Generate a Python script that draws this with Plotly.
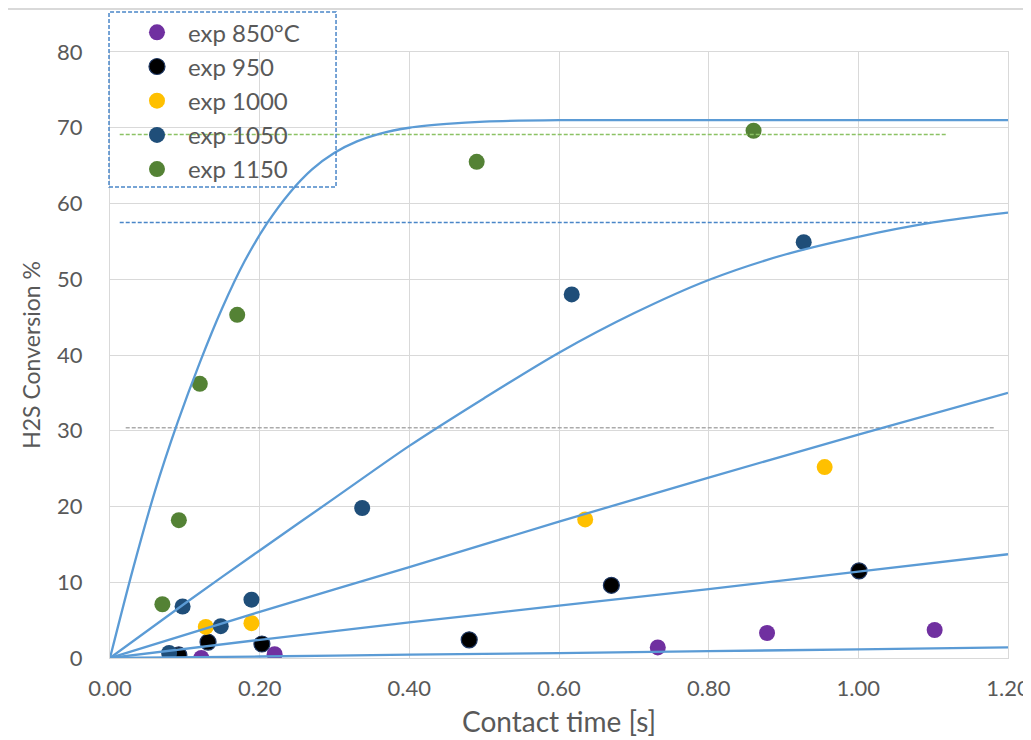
import plotly.graph_objects as go

# ---- experimental points (contact time [s], H2S conversion %) ----
t850 = [0.122, 0.220, 0.732, 0.878, 1.102]
y850 = [0.0, 0.5, 1.4, 3.3, 3.7]
t950 = [0.092, 0.131, 0.203, 0.480, 0.670, 1.001]
y950 = [0.4, 2.1, 1.85, 2.4, 9.6, 11.5]
t1000 = [0.128, 0.189, 0.635, 0.955]
y1000 = [4.1, 4.6, 18.3, 25.2]
t1050 = [0.079, 0.097, 0.148, 0.189, 0.337, 0.617, 0.927]
y1050 = [0.66, 6.8, 4.2, 7.7, 19.8, 48.0, 54.9]
t1150 = [0.070, 0.092, 0.120, 0.170, 0.490, 0.860]
y1150 = [7.1, 18.2, 36.2, 45.3, 65.5, 69.6]

# ---- model curves ----
m1150_t = [0, 0.03, 0.06, 0.09, 0.12, 0.15, 0.18, 0.21, 0.24, 0.27, 0.30, 0.33,
           0.36, 0.40, 0.45, 0.50, 0.60, 0.80, 1.00, 1.20]
m1150_y = [0, 11.5, 22.0, 31.0, 39.0, 46.2, 52.4, 57.4, 61.4, 64.5, 66.7, 68.2,
           69.2, 70.0, 70.5, 70.8, 71.0, 71.0, 71.0, 71.0]
m1050_t = [0, 0.1, 0.2, 0.3, 0.4, 0.5, 0.6, 0.7, 0.8, 0.9, 1.0, 1.1, 1.2]
m1050_y = [0, 7.2, 14.2, 21.1, 28.0, 34.3, 40.3, 45.5, 49.9, 53.2, 55.6, 57.5, 58.8]
m_t = [0, 0.2, 0.4, 0.6, 0.8, 1.0, 1.2]
m1000_y = [0, 6.1, 12.0, 18.0, 23.8, 29.5, 35.0]
m950_y = [0, 2.4, 4.7, 6.9, 9.1, 11.4, 13.7]
m850_y = [0, 0.2, 0.45, 0.65, 0.9, 1.15, 1.4]

# ---- dashed reference levels ----
ref_levels = [69.1, 57.5, 30.4]
ref_start = [0.013, 0.013, 0.021]
ref_end = [1.117, 1.097, 1.183]
ref_colors = ["#8cc265", "#4a86c8", "#ababab"]

names = ["exp 850°C", "exp 950", "exp 1000", "exp 1050", "exp 1150"]
colors = ["#7030a0", "#000000", "#ffc000", "#1f4e79", "#548235"]
exp_t = [t850, t950, t1000, t1050, t1150]
exp_y = [y850, y950, y1000, y1050, y1150]

FONT = "Lato"
TXT = "#595959"

fig = go.Figure()

for n, c, tx, ty in zip(names, colors, exp_t, exp_y):
    fig.add_trace(go.Scatter(
        x=tx, y=ty, mode="markers", name=n,
        marker=dict(size=16, color=c,
                    line=dict(width=1.2 if c == "#000000" else 0, color="#1f3864")),
    ))

for lev, s, e, col in zip(ref_levels, ref_start, ref_end, ref_colors):
    fig.add_trace(go.Scatter(
        x=[s, e], y=[lev, lev], mode="lines", showlegend=False, hoverinfo="skip",
        line=dict(color=col, width=1.6, dash="4px,2px"),
    ))

for mt, my in [(m1150_t, m1150_y), (m1050_t, m1050_y), (m_t, m1000_y),
               (m_t, m950_y), (m_t, m850_y)]:
    fig.add_trace(go.Scatter(
        x=mt, y=my, mode="lines", showlegend=False, hoverinfo="skip",
        line=dict(color="#5b9bd5", width=2.3, shape="spline", smoothing=0.8),
    ))

fig.update_layout(
    width=1031, height=740,
    margin=dict(l=102, r=31, t=44, b=90, autoexpand=False),
    paper_bgcolor="white", plot_bgcolor="white",
    font=dict(family=FONT, color=TXT, size=22),
    showlegend=True,
    legend=dict(
        x=0.0178, y=1.069, xanchor="left", yanchor="top",
        bgcolor="rgba(0,0,0,0)", borderwidth=0,
        font=dict(family=FONT, size=24, color=TXT),
        itemwidth=52, tracegroupgap=0,
    ),
    xaxis=dict(
        range=[0, 1.2], dtick=0.2, tick0=0, tickformat=".2f",
        automargin=False,
        showgrid=True, gridcolor="#d9d9d9", gridwidth=1,
        showline=True, mirror=True, linecolor="#d9d9d9", linewidth=1,
        zeroline=False, ticks="", ticklabelstandoff=11,
        tickfont=dict(size=22, color=TXT),
    ),
    yaxis=dict(
        range=[0, 80], dtick=10, tick0=0,
        automargin=False,
        showgrid=True, gridcolor="#d9d9d9", gridwidth=1,
        showline=True, mirror=True, linecolor="#d9d9d9", linewidth=1,
        zeroline=True, zerolinecolor="#bfbfbf", zerolinewidth=1.5,
        ticks="", ticklabelstandoff=22,
        tickfont=dict(size=22, color=TXT),
        title=dict(text="H2S Conversion %", font=dict(size=23, color=TXT), standoff=10),
    ),
    annotations=[
        dict(text="Contact time [s]", xref="paper", yref="paper",
             x=0.5, y=-0.104, xanchor="center", yanchor="middle",
             showarrow=False, font=dict(size=28, color=TXT, family=FONT)),
    ],
    shapes=[
        # legend dashed frame
        dict(type="rect", xref="paper", yref="paper",
             x0=-0.0011, x1=0.2517, y0=0.7772, y1=1.066,
             line=dict(color="#4a86c8", width=1.5, dash="4px,2px"),
             fillcolor="rgba(0,0,0,0)", layer="above"),
        # chart-area border
        dict(type="rect", xref="paper", yref="paper",
             x0=-0.1147, x1=1.05, y0=-0.17, y1=1.071,
             line=dict(color="#d9d9d9", width=2),
             fillcolor="rgba(0,0,0,0)", layer="below"),
    ],
)

fig.write_html("out.html")
